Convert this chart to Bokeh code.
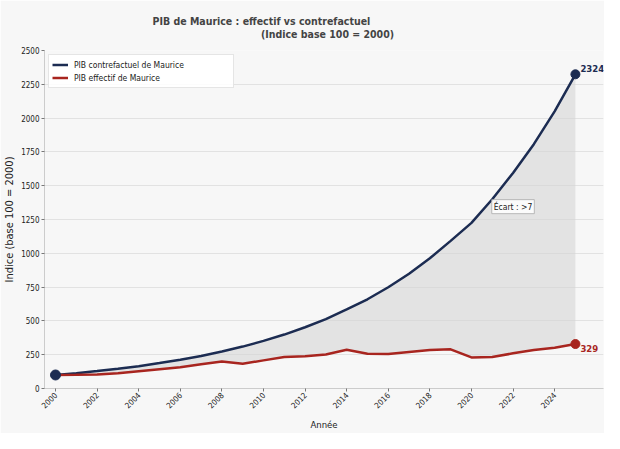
import math
from bokeh.plotting import figure
from bokeh.models import Label, Title, Legend, LegendItem, FixedTicker, ColumnDataSource
from bokeh.embed import file_html
from bokeh.resources import INLINE

years = list(range(2000, 2026))
contrefactuel = [100, 113, 129, 146, 165, 188, 213, 241, 274, 310, 352, 399, 453,
                 513, 585, 660, 749, 849, 963, 1092, 1225, 1400, 1594, 1807, 2050, 2324]
effectif = [100, 101, 104, 113, 128, 143, 158, 180, 200, 183, 208, 233, 238,
            252, 287, 257, 255, 270, 285, 290, 230, 233, 260, 285, 302, 329]
x_ticks = list(range(2000, 2025, 2))
y_ticks = list(range(0, 2501, 250))
title_line1 = "PIB de Maurice : effectif vs contrefactuel"
title_line2 = "(Indice base 100 = 2000)"
label_cf = "PIB contrefactuel de Maurice"
label_eff = "PIB effectif de Maurice"
ecart_text = "Écart : >7"

FONT = "'DejaVu Sans Condensed', 'DejaVu Sans', sans-serif"
NAVY = "#1c2c52"
RED = "#a8251f"
BG = "#f7f7f7"

src = ColumnDataSource(dict(x=years, cf=contrefactuel, eff=effectif))

p = figure(width=604, height=433, output_backend="svg", toolbar_location=None,
           x_range=(1999.47, 2026.35), y_range=(0, 2500),
           background_fill_color=BG, border_fill_color=BG,
           min_border_left=44, min_border_right=1, min_border_top=50, min_border_bottom=41)
p.outline_line_color = None

p.varea(x="x", y1="eff", y2="cf", source=src, fill_color="#d6d6d6", fill_alpha=0.6)
r_cf = p.line(x="x", y="cf", source=src, line_color=NAVY, line_width=2.5)
r_eff = p.line(x="x", y="eff", source=src, line_color=RED, line_width=2.5)

p.scatter([years[-1]], [effectif[-1]], size=9, color=RED)
p.scatter([years[-1]], [contrefactuel[-1]], size=9, color=NAVY)
p.scatter([years[0]], [contrefactuel[0]], size=10, color=NAVY)

p.add_layout(Label(x=years[-1], y=contrefactuel[-1], text=str(contrefactuel[-1]),
                   x_offset=5, y_offset=6, text_baseline="middle", text_font=FONT,
                   text_font_size="9.5px", text_font_style="bold", text_color=NAVY))
p.add_layout(Label(x=years[-1], y=effectif[-1], text=str(effectif[-1]),
                   x_offset=5, y_offset=-4, text_baseline="middle", text_font=FONT,
                   text_font_size="9.5px", text_font_style="bold", text_color=RED))
p.add_layout(Label(x=2022.0, y=1345, text=ecart_text, text_align="center",
                   text_baseline="middle", text_font=FONT, text_font_size="8.5px",
                   text_color="#222222", background_fill_color="white",
                   background_fill_alpha=0.85, border_line_color="#aaaaaa",
                   border_line_width=0.8, padding=2))

legend = Legend(items=[LegendItem(label=label_cf + "\u00a0" * 19, renderers=[r_cf]),
                       LegendItem(label=label_eff, renderers=[r_eff])],
                location="top_left", label_text_font=FONT, label_text_font_size="8.5px",
                label_height=13, glyph_height=13, glyph_width=16, spacing=0,
                label_standoff=6, padding=3, margin=4, border_line_color="#cccccc",
                background_fill_color="white", background_fill_alpha=0.9,
                label_text_color="#222222")
p.add_layout(legend)

p.add_layout(Title(text=title_line1 + "\n" + "\u00a0" * 33 + title_line2,
                   align="left", text_font=FONT, text_font_size="10.5px",
                   text_font_style="bold", text_line_height=1.15, offset=108,
                   standoff=20), "above")

p.xaxis.ticker = FixedTicker(ticks=x_ticks)
p.yaxis.ticker = FixedTicker(ticks=y_ticks)
p.xaxis.major_label_orientation = math.pi / 4
p.xaxis.major_label_text_align = "center"
p.xaxis.axis_label = "Année"
p.yaxis.axis_label = "Indice (base 100 = 2000)"
for ax in (p.xaxis, p.yaxis):
    ax.axis_line_color = "#cccccc"
    ax.major_tick_line_color = "#777777"
    ax.major_tick_in = 0
    ax.major_tick_out = 3
    ax.minor_tick_line_color = None
    ax.major_label_text_font = FONT
    ax.major_label_text_font_size = "8px"
    ax.major_label_text_color = "#222222"
    ax.axis_label_text_font = FONT
    ax.axis_label_text_font_style = "normal"
    ax.axis_label_text_color = "#222222"
    ax.major_label_standoff = 2
p.xaxis.axis_label_text_font_size = "9.5px"
p.yaxis.axis_label_text_font_size = "11px"
p.xaxis.axis_label_standoff = 5
p.yaxis.axis_label_standoff = 2
p.xgrid.grid_line_color = None
p.ygrid.grid_line_color = "#e2e2e2"
p.ygrid.grid_line_width = 1

open("out.html", "w").write(file_html(p, INLINE))
